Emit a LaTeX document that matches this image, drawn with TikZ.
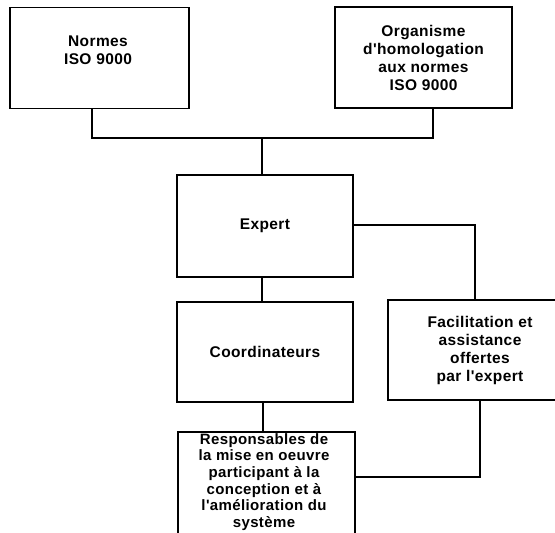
\documentclass[tikz,border=0pt]{standalone}
\usepackage{fontspec}
\newfontfamily\chartfont{Liberation Sans}[LetterSpace=2.5]
\begin{document}
\begin{tikzpicture}[x=1pt,y=-1pt,
  boxfont/.style={font=\chartfont\bfseries\fontsize{15.5}{18}\selectfont},
  box/.style={draw=black, line width=1.3pt, rectangle, inner sep=0pt,
    align=center, boxfont},
  link/.style={draw=black, line width=1.3pt}]
\useasboundingbox (0,0) rectangle (555,533);

% top row
\node[box, minimum width=179pt, minimum height=101pt] (normes) at (99.5,58) {};
\node[boxfont, align=center, inner sep=0pt] (normestext) at (98,50) {Normes\\ISO 9000};
\node[box, minimum width=177pt, minimum height=101pt] (orga) at (423.5,57.5)
  {Organisme\\d'homologation\\aux normes\\ISO 9000};

% middle
\node[box, minimum width=176pt, minimum height=102pt] (expert) at (265,226) {Expert};
\node[box, minimum width=176pt, minimum height=100pt] (coord) at (265,352) {Coordinateurs};
\node[box, minimum width=184pt, minimum height=100pt] (facil) at (480,350)
  {Facilitation et\\assistance\\offertes\\par l'expert};

% bottom, running past the lower edge
\node[box, minimum width=177pt, minimum height=116pt] (resp) at (266.5,490) {};
\node[font=\chartfont\bfseries\fontsize{15}{16.7}\selectfont, align=center, inner sep=0pt,
  anchor=north] (resptext) at (264,433)
  {Responsables de\\la mise en oeuvre\\participant à la\\conception et à\\l'amélioration du\\système};

% connectors
\coordinate (join) at (262,138);
\draw[link] ([xshift=-7.5pt]normes.south) |- (join);
\draw[link] ([xshift=9.5pt]orga.south) |- (join);
\draw[link] (join) -- (join |- expert.north);
\draw[link] (expert.east |- 0,225) -| ([xshift=-5pt]facil.north);
\draw[link] ([xshift=-3pt]expert.south) -- ([xshift=-3pt]coord.north);
\draw[link] ([xshift=-2pt]coord.south) -- ([xshift=-2pt]coord.south |- resp.north);
\draw[link] (facil.south) |- (resp.east |- 0,477);
\end{tikzpicture}
\end{document}
